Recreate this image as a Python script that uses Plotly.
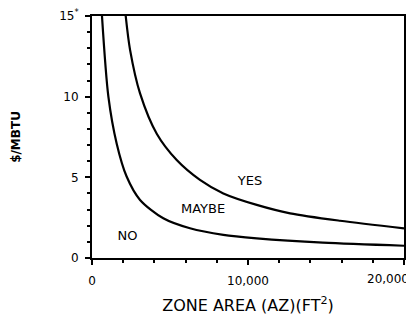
import plotly.graph_objects as go

# Boundary between NO and MAYBE regions
lower_x = [640, 1050, 1580, 2220, 3080, 4570, 6280, 8420, 10560, 14800, 20000]
lower_y = [15.0, 10.0, 7.1, 5.05, 3.6, 2.46, 1.84, 1.43, 1.22, 0.95, 0.76]

# Boundary between MAYBE and YES regions
upper_x = [2160, 2440, 3080, 4150, 5430, 6920, 8420, 10560, 12700, 15900, 20000]
upper_y = [15.0, 12.9, 10.2, 7.7, 6.07, 4.84, 4.0, 3.29, 2.77, 2.31, 1.84]

region_labels = ["YES", "MAYBE", "NO"]
region_x = [10130, 7120, 2280]
region_y = [4.73, 3.02, 1.32]

y_tickvals = [0, 5, 10, 15]
y_ticktext = ["0", "5", "10", "15<sup>*</sup>"]
x_tickvals = [0, 10000, 20000]
x_ticktext = ["0", "10,000", ""]
x_end_tickval = [20000]
x_end_ticktext = ["20,000"]

FONT = "DejaVu Sans, Liberation Sans, sans-serif"

fig = go.Figure()
fig.add_trace(go.Scatter(x=lower_x, y=lower_y, mode="lines",
                         line=dict(color="black", width=2.2, shape="spline", smoothing=0.8),
                         showlegend=False, hoverinfo="skip"))
fig.add_trace(go.Scatter(x=upper_x, y=upper_y, mode="lines", xaxis="x2",
                         line=dict(color="black", width=2.2, shape="spline", smoothing=0.8),
                         showlegend=False, hoverinfo="skip"))
fig.add_trace(go.Scatter(x=region_x, y=region_y, mode="text", text=region_labels,
                         textfont=dict(family=FONT, size=13, color="black"),
                         showlegend=False, hoverinfo="skip"))

fig.update_layout(
    width=414, height=322,
    margin=dict(l=84, r=18, t=8, b=72),
    paper_bgcolor="white", plot_bgcolor="white",
    font=dict(family=FONT, size=12, color="black"),
    xaxis=dict(range=[0, 20000], tickvals=x_tickvals, ticktext=x_ticktext,
               automargin=False, ticklabelstandoff=6,
               showgrid=False, zeroline=False, showline=True, linecolor="black",
               linewidth=2, mirror=True, ticks="outside", ticklen=5, tickwidth=1.5,
               tickcolor="black",
               minor=dict(dtick=2000, ticks="outside", ticklen=3, tickcolor="black", showgrid=False),
               title=dict(text="ZONE AREA (AZ)(FT<sup>2</sup>)", font=dict(size=16), standoff=12)),
    xaxis2=dict(range=[0, 20000], overlaying="x", side="bottom", anchor="y",
                tickvals=x_end_tickval, ticktext=x_end_ticktext,
                ticklabelposition="outside left", ticklabelshift=5, ticklabelstandoff=12,
                automargin=False, showgrid=False, zeroline=False, showline=False,
                ticks="", ticklen=5),
    yaxis=dict(range=[0, 15], tickvals=y_tickvals, ticktext=y_ticktext,
               automargin=False, ticklabeloverflow="allow", ticklabelstandoff=4,
               showgrid=False, zeroline=False, showline=True, linecolor="black",
               linewidth=2, mirror=True, ticks="outside", ticklen=5, tickwidth=1.5,
               tickcolor="black",
               minor=dict(dtick=1, ticks="outside", ticklen=3, tickcolor="black", showgrid=False),
               title=dict(text="<b>$/MBTU</b>", font=dict(size=12), standoff=36)),
)

fig.write_html("out.html")
